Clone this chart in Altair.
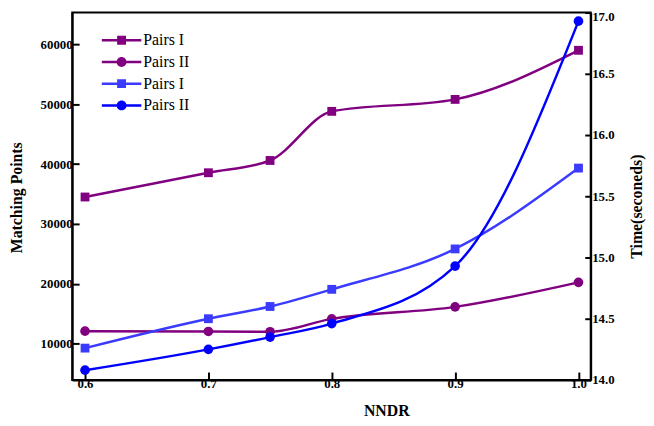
import altair as alt
import pandas as pd

# ---- data ----
nndr = [0.6, 0.7, 0.75, 0.8, 0.9, 1.0]
match_pairs1 = [34500, 38550, 40600, 48800, 50800, 59000]
match_pairs2 = [12100, 12050, 12000, 14150, 16150, 20250]
time_pairs1 = [14.26, 14.50, 14.60, 14.74, 15.07, 15.73]
time_pairs2 = [14.08, 14.25, 14.35, 14.46, 14.93, 16.93]

keys = ["m1", "m2", "t1", "t2"]
labels = ["Pairs I", "Pairs II", "Pairs I", "Pairs II"]
colors = ["#800080", "#800080", "#3b3bff", "#0000ff"]
markers = ["square", "circle", "square", "circle"]
x_ticks = [0.6, 0.7, 0.8, 0.9, 1.0]
left_ticks = [10000, 20000, 30000, 40000, 50000, 60000]
right_ticks = [14.0, 14.5, 15.0, 15.5, 16.0, 16.5, 17.0]

series = {"m1": match_pairs1, "m2": match_pairs2, "t1": time_pairs1, "t2": time_pairs2}
rows = []
for k, vals in series.items():
    for xv, yv in zip(nndr, vals):
        rows.append({"nndr": xv, "value": yv, "key": k})
df = pd.DataFrame(rows)

FONT = "Liberation Serif"

line_part = "M-4,-0.25H4V0.25H-4Z"
sq_part = "M-0.9,-0.9H0.9V0.9H-0.9Z"
ci_part = "M1,0A1,1,0,1,1,-1,0A1,1,0,1,1,1,0Z"
legend_paths = [line_part + " " + (sq_part if m == "square" else ci_part) for m in markers]

x_enc = alt.X(
    "nndr:Q",
    scale=alt.Scale(domain=[0.5896, 1.0099], nice=False, zero=False),
    axis=alt.Axis(values=x_ticks, format=".1f", title="NNDR", labelPadding=6,
                  tickSize=alt.ExprRef(expr="-8"), tickWidth=2,
                  titleX=318, titleY=31, titleBaseline="middle", titleAlign="center"),
)

y_left = alt.Y(
    "value:Q",
    scale=alt.Scale(domain=[3950, 65300], nice=False, zero=False),
    axis=alt.Axis(values=left_ticks, format="d", title="Matching Points", orient="left",
                  labelPadding=7, tickSize=alt.ExprRef(expr="-7"), tickWidth=2,
                  titleAngle=270, titleX=-56, titleY=187,
                  titleAlign="center", titleBaseline="middle"),
)
y_right = alt.Y(
    "value:Q",
    scale=alt.Scale(domain=[14, 17], nice=False, zero=False),
    axis=alt.Axis(values=right_ticks, format=".1f", title="Time(seconeds)", orient="right",
                  labelPadding=7, tickSize=alt.ExprRef(expr="-6"), tickWidth=2,
                  titleAngle=270, titleX=46, titleY=196,
                  titleAlign="center", titleBaseline="middle",
                  labelBaseline=alt.ConditionalAxisLabelBaseline(
                      condition={"test": "datum.value >= 17", "value": "top"}, value="middle"),
                  labelOffset=alt.ConditionalAxisNumber(
                      condition={"test": "datum.value >= 17", "value": -2}, value=0)),
)


def series_layers(i, y_enc):
    sub = alt.Chart(df).transform_filter(alt.FieldEqualPredicate(field="key", equal=keys[i]))
    line = sub.mark_line(interpolate="monotone", strokeWidth=2.5, color=colors[i]).encode(
        x=x_enc, y=y_enc)
    pts = sub.mark_point(shape=markers[i], filled=True, opacity=1, color=colors[i],
                         size=80 if markers[i] == "square" else 95).encode(x=x_enc, y=y_enc)
    return [line, pts]


purple = alt.layer(*(series_layers(0, y_left) + series_layers(1, y_left)))
blue = alt.layer(*(series_layers(2, y_right) + series_layers(3, y_right)))

label_expr = "datum.label == 'm1' || datum.label == 't1' ? 'Pairs I' : 'Pairs II'"
leg = alt.Legend(
    title=None, orient="none", legendX=27, legendY=20, padding=0,
    labelExpr=label_expr, labelFont=FONT, labelFontSize=16, labelColor="black",
    labelLimit=200, symbolSize=100, symbolStrokeWidth=0, symbolOffset=15,
    labelOffset=14, rowPadding=6, symbolOpacity=1,
)
legend_layer = alt.Chart(df).transform_filter("false").mark_point(filled=True, opacity=1).encode(
    color=alt.Color("key:N", scale=alt.Scale(domain=keys, range=colors), legend=leg),
    shape=alt.Shape("key:N", scale=alt.Scale(domain=keys, range=legend_paths), legend=leg),
)

chart = alt.layer(purple, blue, legend_layer).resolve_scale(y="independent").properties(
    width=525, height=372,
    background="white",
    autosize=alt.AutoSizeParams(type="none"),
    padding={"left": 65, "top": 2, "right": 56, "bottom": 44},
).configure_view(stroke="black", strokeWidth=2).configure_axis(
    labelFont=FONT, labelFontSize=13, labelFontWeight="bold", labelColor="black",
    titleFont=FONT, titleFontSize=16, titleFontWeight="bold", titleColor="black",
    domainColor="black", domainWidth=2, tickColor="black", grid=False,
)

chart.save("out.html", embed_options={"renderer": "svg", "actions": False})
